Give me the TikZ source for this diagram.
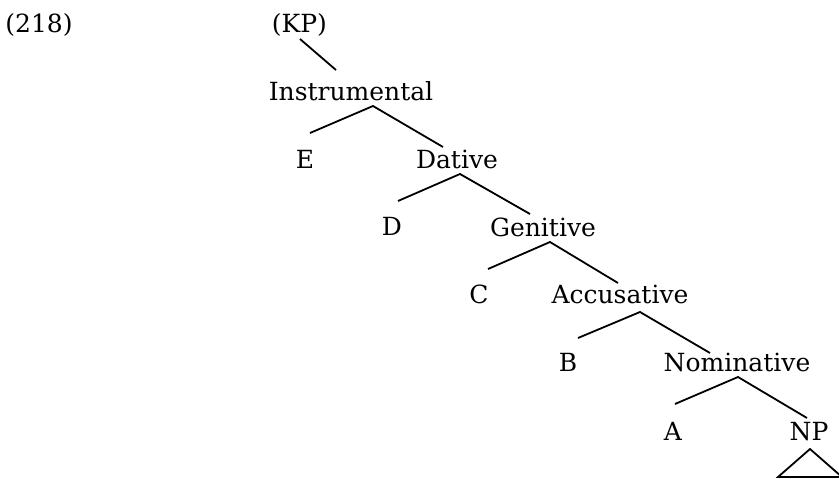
\documentclass[tikz,border=0pt]{standalone}
\usepackage{fontspec}
\setmainfont{DejaVu Serif}
\usetikzlibrary{calc}
\begin{document}
\begin{tikzpicture}[x=1pt,y=1pt,
  lbl/.style={inner sep=0pt,anchor=base,font=\fontsize{25}{30}\selectfont},
  branch/.style={line width=1.8pt}]
\useasboundingbox (0,0) rectangle (839,-479);
\node[lbl] (ex) at (39,-32) {(218)};
\node[lbl] (kp) at (299.5,-32) {(KP)};
\node[lbl] (ins) at (351,-100) {Instrumental};
\node[lbl] (e) at (305,-168) {E};
\node[lbl] (dat) at (457,-168) {Dative};
\node[lbl] (d) at (392,-235) {D};
\node[lbl] (gen) at (543,-236) {Genitive};
\node[lbl] (c) at (479,-303) {C};
\node[lbl] (acc) at (620,-303) {Accusative};
\node[lbl] (b) at (568,-371) {B};
\node[lbl] (nom) at (737,-371) {Nominative};
\node[lbl] (a) at (673,-440) {A};
\node[lbl] (np) at (809,-440) {NP};
\draw[branch] ($(kp.base)+(0.5,-7)$) -- ($(ins.base)+(-15,30)$);
\draw[branch] ($(e.base)+(5,35)$) -- ($(ins.base)+(22,-6)$) -- ($(dat.base)+(-14,21)$);
\draw[branch] ($(d.base)+(6,34)$) -- ($(dat.base)+(3,-6)$) -- ($(gen.base)+(-13,22)$);
\draw[branch] ($(c.base)+(9,34)$) -- ($(gen.base)+(7,-6)$) -- ($(acc.base)+(-2,20)$);
\draw[branch] ($(b.base)+(10,33)$) -- ($(acc.base)+(20,-9)$) -- ($(nom.base)+(-27,18)$);
\draw[branch] ($(a.base)+(2,36)$) -- ($(nom.base)+(1,-6)$) -- ($(np.base)+(-2,22)$);
\draw[branch] ($(np.base)+(1,-9)$) -- ($(np.base)+(-31,-37)$) -- ($(np.base)+(33,-37)$) -- cycle;
\end{tikzpicture}
\end{document}
